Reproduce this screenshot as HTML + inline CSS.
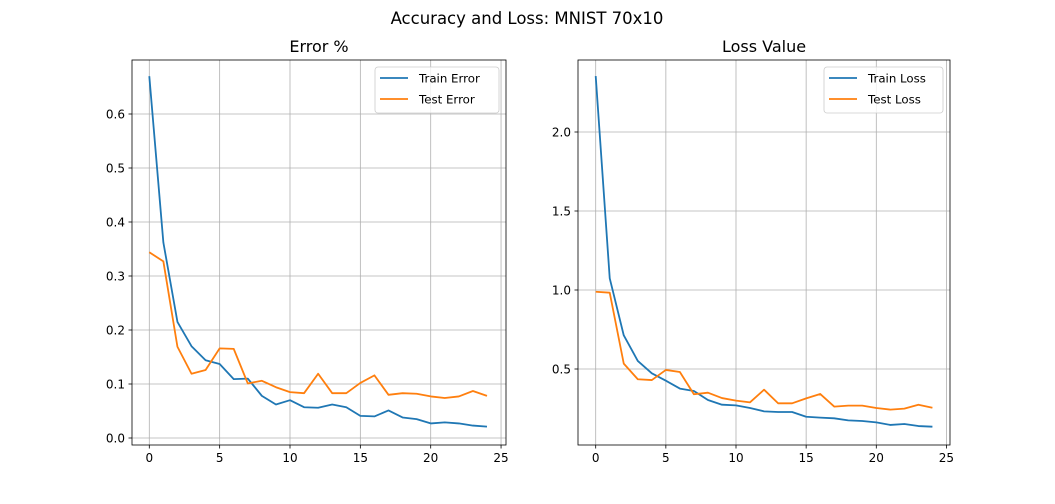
<!DOCTYPE html>
<html><head><meta charset="utf-8"><style>
body{margin:0;background:#fff;}
svg text{font-family:"DejaVu Sans","Liberation Sans",sans-serif;}
</style></head><body>
<svg id="fig" width="1055" height="499" viewBox="0 0 1055 499" xmlns="http://www.w3.org/2000/svg">
<rect width="1055" height="499" fill="#fff"/>
<text x="527" y="24" font-size="16.5" text-anchor="middle">Accuracy and Loss: MNIST 70x10</text>
</svg>
<script>
const epochs=[0,1,2,3,4,5,6,7,8,9,10,11,12,13,14,15,16,17,18,19,20,21,22,23,24];
const trainError=[0.670,0.362,0.215,0.170,0.144,0.137,0.109,0.110,0.078,0.062,0.070,0.057,0.056,0.062,0.057,0.041,0.040,0.051,0.038,0.035,0.027,0.029,0.027,0.023,0.021];
const testError=[0.344,0.327,0.169,0.119,0.126,0.166,0.165,0.101,0.106,0.094,0.085,0.083,0.119,0.083,0.083,0.102,0.116,0.080,0.083,0.082,0.077,0.074,0.077,0.087,0.078];
const trainLoss=[2.354,1.074,0.713,0.551,0.473,0.426,0.376,0.361,0.304,0.274,0.270,0.253,0.232,0.228,0.228,0.198,0.192,0.188,0.175,0.171,0.162,0.146,0.152,0.139,0.135];
const testLoss=[0.989,0.983,0.534,0.435,0.430,0.494,0.481,0.340,0.350,0.316,0.300,0.289,0.369,0.283,0.283,0.314,0.342,0.262,0.268,0.268,0.253,0.243,0.249,0.274,0.255];
const xTicks=[0,5,10,15,20,25];
const errTicks=[0.0,0.1,0.2,0.3,0.4,0.5,0.6];
const lossTicks=[0.5,1.0,1.5,2.0];

const NS="http://www.w3.org/2000/svg";
const svg=document.getElementById('fig');
function mk(tag,attrs,parent){const e=document.createElementNS(NS,tag);for(const k in attrs)e.setAttribute(k,attrs[k]);(parent||svg).appendChild(e);return e;}

function panel(cfg){
  const g=mk('g',{});
  
  
  const {L,R,T,B}=cfg;
  const sx=v=>cfg.x0px+(v-0)*cfg.xs;
  const sy=v=>cfg.y0px-(v-cfg.y0)*cfg.ys;
  xTicks.forEach(t=>{const x=sx(t);
    const gl=mk('line',{x1:x,x2:x,y1:T,y2:B,stroke:'#b0b0b0','stroke-width':0.8},g);
    
    
    mk('line',{x1:x,x2:x,y1:B,y2:B+3.5,stroke:'#000','stroke-width':0.8},g);
    const tx=mk('text',{x:x,y:B+17,'font-size':12,'text-anchor':'middle'},g);tx.textContent=t;
    
    
  });
  cfg.yticks.forEach(t=>{const y=sy(t);
    const gl=mk('line',{x1:L,x2:R,y1:y,y2:y,stroke:'#b0b0b0','stroke-width':0.8},g);
    
    
    mk('line',{x1:L-3.5,x2:L,y1:y,y2:y,stroke:'#000','stroke-width':0.8},g);
    const tx=mk('text',{x:L-7,y:y+4.5,'font-size':12,'text-anchor':'end'},g);tx.textContent=t.toFixed(1);
    
    
  });
  const clipId=cfg.name+'-clip';
  const cp=mk('clipPath',{id:clipId},g);mk('rect',{x:L,y:T,width:R-L,height:B-T},cp);
  cfg.series.forEach(s=>{
    const d=s.data.map((v,i)=>(i?'L':'M')+sx(epochs[i]).toFixed(2)+' '+sy(v).toFixed(2)).join(' ');
    const p=mk('path',{d:d,fill:'none',stroke:s.color,'stroke-width':1.8,'stroke-linejoin':'round','clip-path':'url(#'+clipId+')'},g);
    
    
  });
  const fr=mk('rect',{x:L,y:T,width:R-L,height:B-T,fill:'none',stroke:'#000','stroke-width':0.8},g);
  
  
  const ti=mk('text',{x:(L+R)/2,y:T-8,'font-size':16,'text-anchor':'middle'},g);ti.textContent=cfg.title;
  
  
  const lg=mk('g',{},g);
  
  
  mk('rect',{x:cfg.legX,y:T+7,width:R-7-cfg.legX,height:46,rx:3,fill:'#fff','fill-opacity':0.8,stroke:'#ccc','stroke-width':0.8},lg);
  cfg.series.forEach((s,i)=>{const y=T+18+i*21;
    const e=mk('g',{},lg);
    
    
    mk('line',{x1:cfg.legX+5,x2:cfg.legX+33,y1:y,y2:y,stroke:s.color,'stroke-width':1.8},e);
    const t=mk('text',{x:cfg.legX+44,y:y+4.5,'font-size':11.8},e);t.textContent=s.label;
  });
}
panel({name:'error-panel',title:'Error %',L:132,R:506,T:60,B:445,x0px:149.3,xs:14.07,y0:0,y0px:438,ys:540,yticks:errTicks,legX:375,
  series:[{id:'train-error-line',label:'Train Error',data:trainError,color:'#1f77b4'},{id:'test-error-line',label:'Test Error',data:testError,color:'#ff7f0e'}]});
panel({name:'loss-panel',title:'Loss Value',L:578,R:950,T:60,B:445,x0px:595.7,xs:14.03,y0:0.5,y0px:369,ys:158,yticks:lossTicks,legX:824,
  series:[{id:'train-loss-line',label:'Train Loss',data:trainLoss,color:'#1f77b4'},{id:'test-loss-line',label:'Test Loss',data:testLoss,color:'#ff7f0e'}]});
</script>
</body></html>
